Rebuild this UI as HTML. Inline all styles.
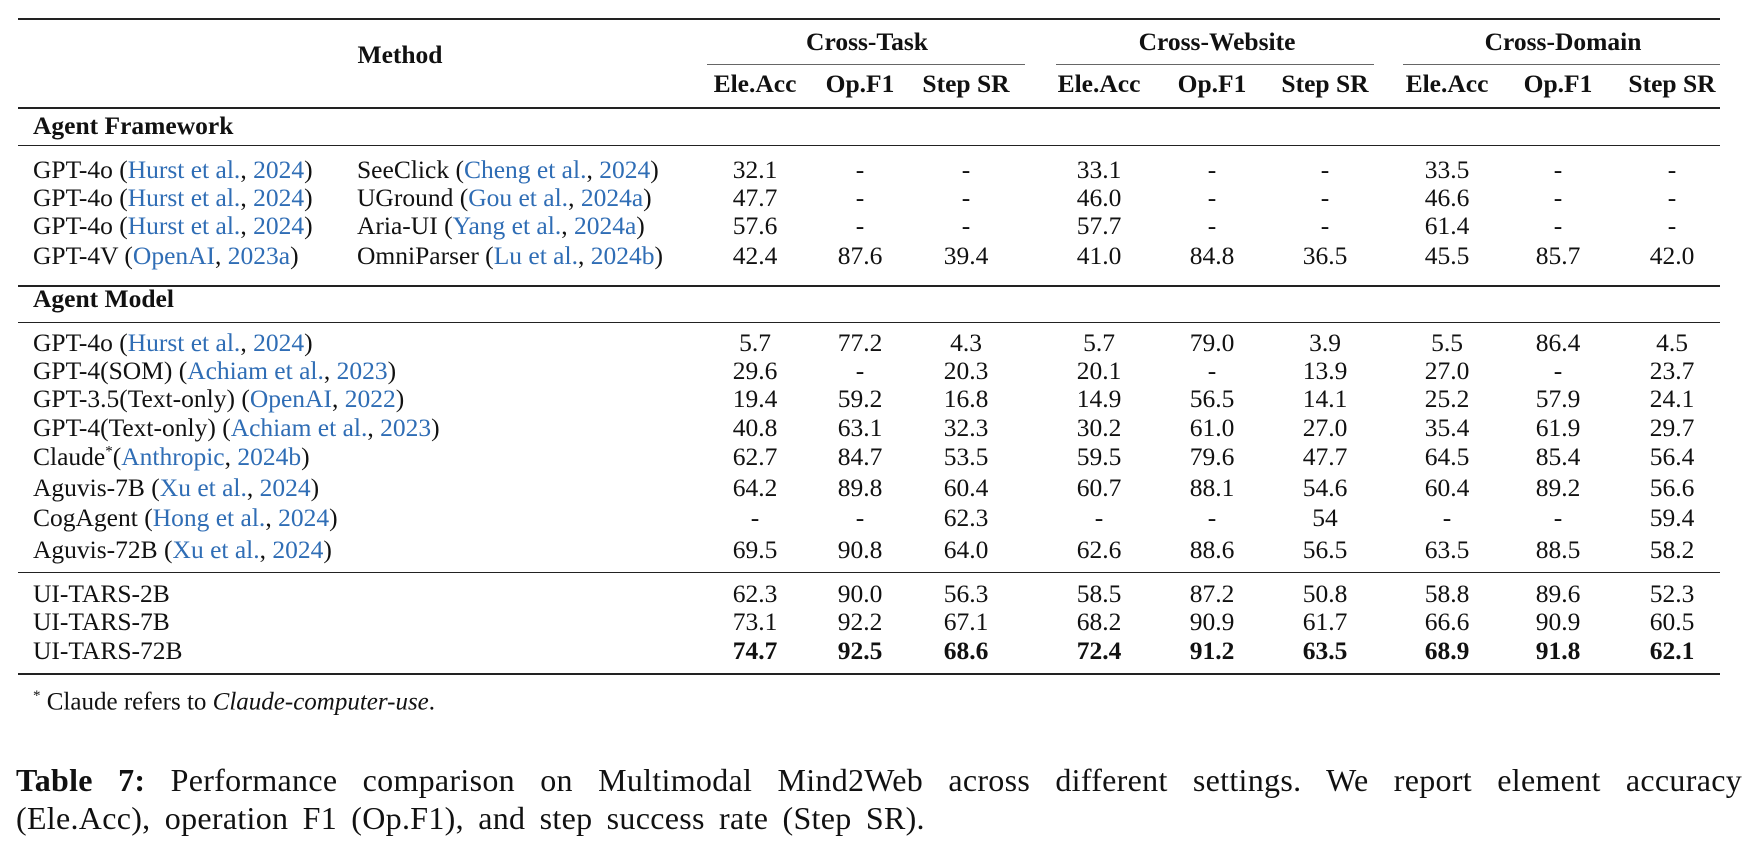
<!DOCTYPE html>
<html><head><meta charset="utf-8"><style>
body{margin:0;width:1752px;height:844px;background:#fff;position:relative;overflow:hidden;font-family:"Liberation Serif",serif;color:#111}
.t{position:absolute;font-size:25.5px;line-height:28px;white-space:nowrap}
.c{transform:translateX(-50%)}
.b{font-weight:bold}
.r{position:absolute;background:#222}
.bl{color:#2f6db5}
</style></head><body>
<div class="r" style="left:18px;top:18px;width:1702px;height:2px"></div>
<div class="r" style="left:707px;top:64px;width:318px;height:1px;background:#666"></div>
<div class="r" style="left:1056px;top:64px;width:318px;height:1px;background:#666"></div>
<div class="r" style="left:1403px;top:64px;width:317px;height:1px;background:#666"></div>
<div class="r" style="left:18px;top:107px;width:1702px;height:1.5px"></div>
<div class="r" style="left:18px;top:145px;width:1702px;height:1px"></div>
<div class="r" style="left:18px;top:285px;width:1702px;height:1.5px"></div>
<div class="r" style="left:18px;top:322px;width:1702px;height:1px"></div>
<div class="r" style="left:18px;top:572px;width:1702px;height:1px"></div>
<div class="r" style="left:18px;top:673px;width:1702px;height:2px"></div>

<div class="t b c" style="left:400px;top:41px">Method</div>
<div class="t b c" style="left:867px;top:28px">Cross-Task</div>
<div class="t b c" style="left:1217px;top:28px">Cross-Website</div>
<div class="t b c" style="left:1563px;top:28px">Cross-Domain</div>
<div class="t b c" style="left:755px;top:70px">Ele.Acc</div>
<div class="t b c" style="left:860px;top:70px">Op.F1</div>
<div class="t b c" style="left:966px;top:70px">Step SR</div>
<div class="t b c" style="left:1099px;top:70px">Ele.Acc</div>
<div class="t b c" style="left:1212px;top:70px">Op.F1</div>
<div class="t b c" style="left:1325px;top:70px">Step SR</div>
<div class="t b c" style="left:1447px;top:70px">Ele.Acc</div>
<div class="t b c" style="left:1558px;top:70px">Op.F1</div>
<div class="t b c" style="left:1672px;top:70px">Step SR</div>

<div class="t b" style="left:33px;top:112px">Agent Framework</div>
<div class="t b" style="left:33px;top:285px">Agent Model</div>

<div id="rows"></div>

<div class="t" style="left:33px;top:682px;font-size:25px"><sup style="font-size:15px">*</sup> Claude refers to <i>Claude-computer-use</i>.</div>
<div class="t" style="left:16px;top:761px;font-size:32px;line-height:38px;width:1726px;white-space:normal;text-align:justify;text-align-last:justify;letter-spacing:0.3px"><b>Table 7:</b> Performance comparison on Multimodal Mind2Web across different settings. We report element accuracy</div>
<div class="t" style="left:16px;top:799px;font-size:32px;line-height:38px;letter-spacing:0.3px;word-spacing:6px">(Ele.Acc), operation F1 (Op.F1), and step success rate (Step SR).</div>

<script>
const cols=[755,860,966,1099,1212,1325,1447,1558,1672];
const H='GPT-4o (<span class="bl">Hurst et al.</span>, <span class="bl">2024</span>)';
const rows=[
[170,H,'SeeClick (<span class="bl">Cheng et al.</span>, <span class="bl">2024</span>)',['32.1','-','-','33.1','-','-','33.5','-','-']],
[198,H,'UGround (<span class="bl">Gou et al.</span>, <span class="bl">2024a</span>)',['47.7','-','-','46.0','-','-','46.6','-','-']],
[226,H,'Aria-UI (<span class="bl">Yang et al.</span>, <span class="bl">2024a</span>)',['57.6','-','-','57.7','-','-','61.4','-','-']],
[256,'GPT-4V (<span class="bl">OpenAI</span>, <span class="bl">2023a</span>)','OmniParser (<span class="bl">Lu et al.</span>, <span class="bl">2024b</span>)',['42.4','87.6','39.4','41.0','84.8','36.5','45.5','85.7','42.0']],
[343,H,'',['5.7','77.2','4.3','5.7','79.0','3.9','5.5','86.4','4.5']],
[371,'GPT-4(SOM) (<span class="bl">Achiam et al.</span>, <span class="bl">2023</span>)','',['29.6','-','20.3','20.1','-','13.9','27.0','-','23.7']],
[399,'GPT-3.5(Text-only) (<span class="bl">OpenAI</span>, <span class="bl">2022</span>)','',['19.4','59.2','16.8','14.9','56.5','14.1','25.2','57.9','24.1']],
[428,'GPT-4(Text-only) (<span class="bl">Achiam et al.</span>, <span class="bl">2023</span>)','',['40.8','63.1','32.3','30.2','61.0','27.0','35.4','61.9','29.7']],
[457,'Claude<sup style="font-size:15px;line-height:0">*</sup>(<span class="bl">Anthropic</span>, <span class="bl">2024b</span>)','',['62.7','84.7','53.5','59.5','79.6','47.7','64.5','85.4','56.4']],
[488,'Aguvis-7B (<span class="bl">Xu et al.</span>, <span class="bl">2024</span>)','',['64.2','89.8','60.4','60.7','88.1','54.6','60.4','89.2','56.6']],
[518,'CogAgent (<span class="bl">Hong et al.</span>, <span class="bl">2024</span>)','',['-','-','62.3','-','-','54','-','-','59.4']],
[550,'Aguvis-72B (<span class="bl">Xu et al.</span>, <span class="bl">2024</span>)','',['69.5','90.8','64.0','62.6','88.6','56.5','63.5','88.5','58.2']],
[594,'UI-TARS-2B','',['62.3','90.0','56.3','58.5','87.2','50.8','58.8','89.6','52.3']],
[622,'UI-TARS-7B','',['73.1','92.2','67.1','68.2','90.9','61.7','66.6','90.9','60.5']],
[651,'UI-TARS-72B','',['74.7','92.5','68.6','72.4','91.2','63.5','68.9','91.8','62.1'],1]
];
let h='';
for(const r of rows){const top=r[0]-14;
h+=`<div class="t" style="left:33px;top:${top}px">${r[1]}</div>`;
if(r[2])h+=`<div class="t" style="left:357px;top:${top}px">${r[2]}</div>`;
r[3].forEach((v,i)=>{h+=`<div class="t c${r[4]?' b':''}" style="left:${cols[i]}px;top:${top}px">${v}</div>`});}
document.getElementById('rows').innerHTML=h;
</script>
</body></html>
